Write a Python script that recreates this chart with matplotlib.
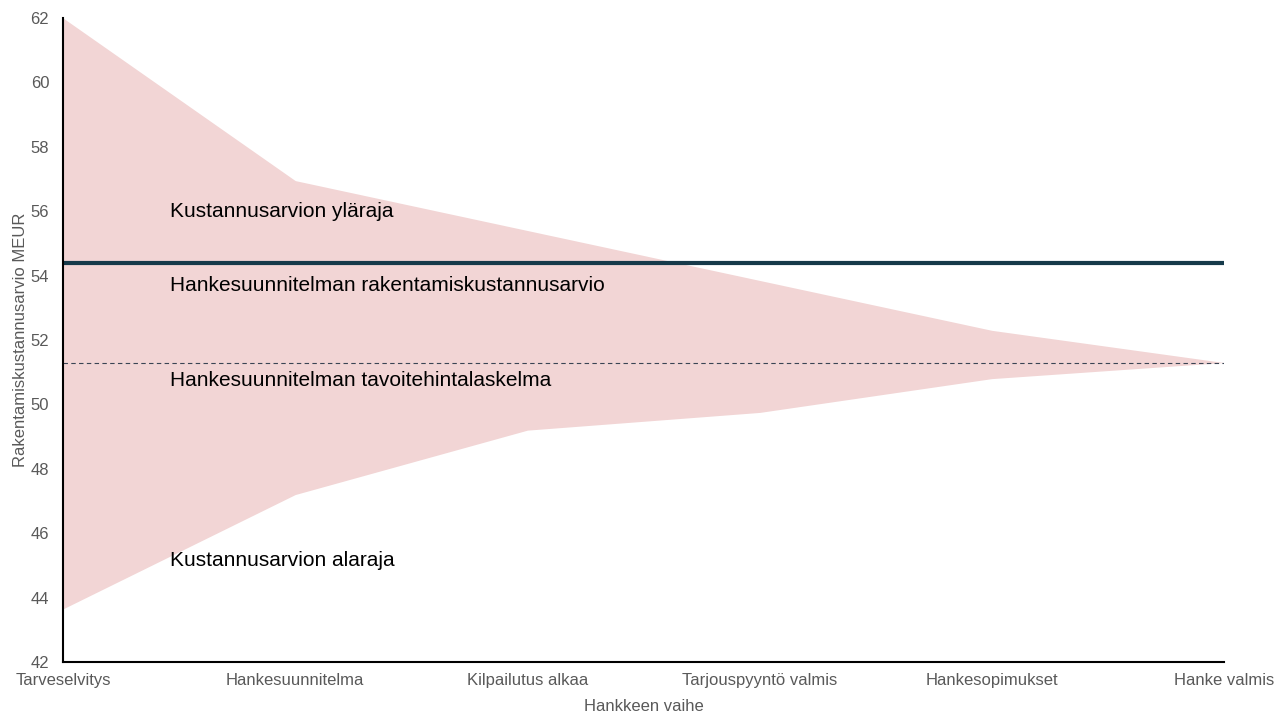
import matplotlib.pyplot as plt

# Hankkeen vaiheet ja kustannusarvion rajat (MEUR)
vaiheet = ["Tarveselvitys", "Hankesuunnitelma", "Kilpailutus alkaa",
           "Tarjouspyyntö valmis", "Hankesopimukset", "Hanke valmis"]
ylaraja = [62.0, 56.95, 55.4, 53.85, 52.3, 51.3]
alaraja = [43.65, 47.2, 49.2, 49.75, 50.8, 51.3]
rakentamiskustannusarvio = 54.4
tavoitehinta = 51.3

plt.rcParams['font.family'] = ['Liberation Sans', 'DejaVu Sans']

fig = plt.figure(figsize=(12.87, 7.2), dpi=100)
ax = fig.add_axes([0.049, 0.0806, 0.902, 0.8944])

x = list(range(len(vaiheet)))
ax.fill_between(x, alaraja, ylaraja, color='#f2d5d5', lw=0)
ax.axhline(rakentamiskustannusarvio, color='#163a4a', lw=3)
ax.axhline(tavoitehinta, color='#3a4454', lw=0.8, ls=(0, (4, 3)))

ax.text(0.46, 56.0, "Kustannusarvion yläraja", fontsize=15, va='center')
ax.text(0.46, 53.7, "Hankesuunnitelman rakentamiskustannusarvio", fontsize=15, va='center')
ax.text(0.46, 50.73, "Hankesuunnitelman tavoitehintalaskelma", fontsize=15, va='center')
ax.text(0.46, 45.15, "Kustannusarvion alaraja", fontsize=15, va='center')

gray = '#595959'
ax.set_xlim(0, 5)
ax.set_ylim(42, 62)
ax.set_yticks(range(42, 63, 2))
ax.set_xticks(x)
ax.set_xticklabels(vaiheet)
ax.tick_params(length=0, colors=gray, labelsize=12)
ax.tick_params(axis='x', pad=8)
ax.tick_params(axis='y', pad=10)
ax.set_xlabel("Hankkeen vaihe", color=gray, fontsize=12, labelpad=8)
ax.set_ylabel("Rakentamiskustannusarvio MEUR", color=gray, fontsize=12, labelpad=2)

for s in ['top', 'right']:
    ax.spines[s].set_visible(False)
for s in ['left', 'bottom']:
    ax.spines[s].set_linewidth(1.5)
    ax.spines[s].set_color('black')

fig.savefig("out.png", dpi=100)
